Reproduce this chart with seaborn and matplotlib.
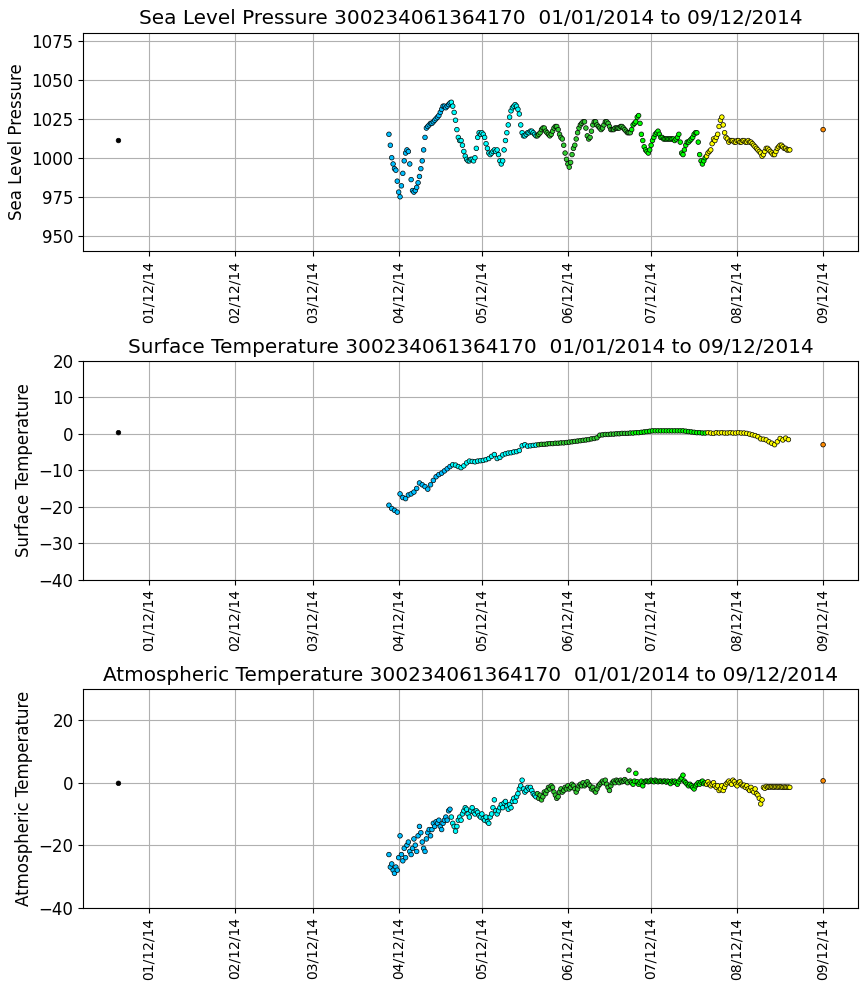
import matplotlib
matplotlib.use("Agg")
from matplotlib import pyplot as plt
import matplotlib.dates as mdates
import seaborn as sns
import pandas as pd
import numpy as np

buoy = "300234061364170"
date_span = "01/01/2014 to 09/12/2014"

# isolated readings at both ends of the record
first_time = "2014-01-01"
last_time = "2014-09-12"
first_values = {"slp": 1011, "sfc": 0.3, "atm": -0.2}
last_values = {"slp": 1018, "sfc": -3.0, "atm": 0.6}

# main track, 12 hourly from 2014-04-08 12:00
track_start = "2014-04-08 12:00"

slp = [
    1015, 1008, 1000, 996, 993, 992, 985, 978, 975, 982, 990, 998, 1003, 1005, 1004, 996,
    986, 979, 978, 979, 981, 984, 988, 993, 998, 1005, 1013, 1019, 1020, 1021, 1022, 1022,
    1023, 1024, 1025, 1026, 1027, 1029, 1031, 1033, 1033, 1032, 1033, 1034, 1035, 1035.5, 1033, 1029,
    1024, 1018, 1013, 1011, 1011, 1008, 1004, 1001, 999, 998, 998, 999, 999, 998, 1000, 1006,
    1013, 1016, 1015, 1016, 1015, 1013, 1009, 1006, 1003, 1002, 1003, 1004, 1005, 1004, 1005, 1002,
    998, 996, 998, 1005, 1011, 1016, 1021, 1026, 1030, 1032, 1033, 1034, 1033, 1031, 1028, 1021,
    1016, 1014, 1014, 1015, 1016, 1016, 1017, 1017, 1016, 1015, 1014, 1014, 1015, 1016, 1018, 1019,
    1019, 1017, 1016, 1015, 1014, 1015, 1017, 1019, 1020, 1020, 1018, 1015, 1013, 1012, 1008, 1003,
    999, 996, 994, 997, 1002, 1006, 1008, 1012, 1016, 1019, 1021, 1022, 1023, 1023, 1019, 1014,
    1012, 1013, 1017, 1021, 1023, 1023, 1021, 1020, 1019, 1018, 1019, 1021, 1023, 1023, 1022, 1020,
    1018, 1018, 1018, 1019, 1019, 1019, 1019, 1020, 1020, 1019, 1018, 1017, 1016, 1016, 1016, 1018,
    1021, 1022, 1023, 1026, 1027, 1022, 1015, 1011, 1007, 1005, 1004, 1003, 1005, 1008, 1011, 1013,
    1015, 1016, 1017, 1015, 1013, 1013, 1012, 1012, 1012, 1012, 1012, 1012, 1012, 1012, 1011, 1012,
    1013, 1015, 1010, 1003, 1002, 1005, 1008, 1010, 1010, 1011, 1012, 1013, 1015, 1016, 1016, 1010,
    1002, 998, 996, 998, 1000, 1001, 1003, 1004, 1005, 1009, 1012, 1011, 1013, 1015, 1020, 1024,
    1026, 1021, 1016, 1013, 1012, 1010, 1011, 1011, 1011, 1010, 1010, 1011, 1011, 1010, 1010, 1011,
    1011, 1010, 1010, 1011, 1010, 1010, 1009, 1008, 1007, 1006, 1005, 1004, 1003, 1001, 1002, 1004,
    1006, 1006, 1005, 1004, 1003, 1002, 1002, 1004, 1006, 1007, 1008, 1008, 1007, 1006, 1006, 1005,
    1005, 1005,
]

atm = [
    -23, -27, -26, -28, -29, -27, -28, -24, -17, -23, -25, -21, -24, -20, -19, -22,
    -23, -21, -18, -20, -22, -17, -14, -16, -19, -21, -22, -18, -16, -15, -17, -15,
    -13, -14, -12.5, -13, -12, -14, -15, -13, -12, -11, -12, -9, -8.5, -11, -13, -14,
    -15.5, -14, -12, -11, -12, -10, -9, -8, -8.5, -10, -11, -9, -8, -9.5, -10, -9,
    -9.5, -10.5, -11, -10, -11.5, -12, -11, -12.5, -13, -11, -10, -8, -5.5, -9, -10, -9,
    -8, -7, -8, -6.5, -6, -7.5, -8.5, -7, -8, -6, -5, -6, -4.5, -3.5, -2, -1,
    0.8, -2, -3, -2.5, -1.5, -2, -1.5, -2.5, -3.5, -4, -4.5, -3.5, -5, -4, -5.5, -4.5,
    -3, -3.5, -2.5, -1.5, -2, -1, -1.5, -3, -4, -5, -4.5, -3, -2, -3, -2.5, -1.5,
    -2, -1, -2, -1.5, -0.5, -1, -2, -3, -2, -1, -0.5, -1, 0, -1, -0.5, 0.3,
    -0.5, -1, -2, -1.5, -2.5, -3, -2, -1, -0.5, 0, 0.5, 0, 0.8, -0.5, -1.5, -2.5,
    -1, 0, 0.5, 0, 0.8, 0.5, 0, 0.8, 0.3, 0.5, 1, 0.5, 0, 4, 0.5, 0,
    -0.5, 0.5, 3, 0.3, -0.5, 0, 0.5, -1, 0.2, 0.5, 0.5, 0.3, 0.5, 0.8, 0.5, 0.3,
    0.8, 0.5, 0.3, 0.5, 0.5, 0.3, 0.5, 0.5, 0.2, 0.5, 0.3, -0.3, 0.5, 0.2, 0.5, 0,
    -0.5, 0.3, 1, 1.5, 2.4, 0.5, 0, -0.5, -1, -0.5, -1, -1.5, -2, -1, -0.5, 0,
    -0.5, 0.2, 0.5, -0.3, 0, -0.5, 0.3, -0.5, -1, -0.5, 0, -1, -1.5, -1, -2.5, -2,
    -1, -2.5, -1.5, -0.5, 0, 0.5, 0, -0.5, 0.8, 0.3, -0.5, -1, 0, 0.3, -0.5, -1,
    -0.8, -1.5, -1, -2, -2.5, -1.5, -2.5, -3, -2, -3.5, -4, -5, -6.8, -5.5, -1.5, -1.8,
    -1.2, -1.5, -1.3, -1.4, -1.3, -1.4, -1.4, -1.3, -1.4, -1.4, -1.3, -1.4, -1.5, -1.4, -1.4, -1.5,
    -1.4, -1.5,
]

# surface temperature, daily from 2014-04-08 12:00
sfc = [
    -19.6, -20.5, -21, -21.5, -16.5, -17.5, -17.8, -16.8, -16.5, -16, -15, -13.5, -14, -14.5, -15.2, -14,
    -12.8, -11.8, -11.2, -10.8, -10.2, -9.6, -9, -8.5, -8.6, -9, -9.3, -8.8, -8, -7.5, -7.6, -7.7,
    -7.5, -7.4, -7.3, -7.1, -6.8, -6.2, -5.7, -6.8, -6.5, -5.8, -5.5, -5.3, -5.2, -5, -4.9, -4.6,
    -3.3, -3, -3.4, -3.3, -3.2, -3.1, -3, -2.9, -2.9, -2.8, -2.7, -2.7, -2.6, -2.6, -2.5, -2.5,
    -2.4, -2.3, -2.2, -2.1, -2, -1.9, -1.8, -1.7, -1.6, -1.4, -1.3, -1.1, -0.4, -0.3, -0.2, -0.2,
    -0.1, -0.1, 0, 0, 0.1, 0.1, 0.1, 0.2, 0.2, 0.3, 0.3, 0.4, 0.5, 0.6, 0.7, 0.8,
    0.8, 0.8, 0.8, 0.8, 0.8, 0.8, 0.8, 0.8, 0.8, 0.8, 0.8, 0.7, 0.6, 0.5, 0.4, 0.3,
    0.3, 0.2, 0.2, 0.3, 0.2, 0.1, 0.3, 0.2, 0.3, 0.2, 0.2, 0.3, 0.2, 0.2, 0.3, 0.2,
    0.2, 0.1, -0.1, -0.3, -0.5, -0.8, -1.4, -1.5, -1.7, -2.2, -2.6, -3.0, -2.2, -1.3, -1.7, -1.2,
    -1.6,
]

# colour bands along the track
band_starts = ["2014-01-01", "2014-04-01", "2014-05-01", "2014-06-01", "2014-07-05", "2014-08-01", "2014-09-01"]
band_colors = ["black", "deepskyblue", "cyan", "limegreen", "lime", "yellow", "darkorange"]


def build_frame(values, step_hours, key):
    times = pd.Timestamp(track_start) + pd.to_timedelta(np.arange(len(values)) * step_hours, unit="h")
    df = pd.DataFrame({"time": times, "value": values})
    ends = pd.DataFrame({"time": pd.to_datetime([first_time, last_time]),
                         "value": [first_values[key], last_values[key]]})
    df = pd.concat([ends.iloc[:1], df, ends.iloc[1:]], ignore_index=True)
    idx = np.searchsorted(pd.to_datetime(band_starts).values, df["time"].values, side="right") - 1
    df["band"] = [band_colors[i] for i in idx]
    return df


panels = [
    ("Sea Level Pressure", build_frame(slp, 12, "slp"), (940, 1080), np.arange(950, 1076, 25)),
    ("Surface Temperature", build_frame(sfc, 24, "sfc"), (-40, 20), np.arange(-40, 21, 10)),
    ("Atmospheric Temperature", build_frame(atm, 12, "atm"), (-40, 30), np.arange(-40, 21, 20)),
]

fig, axes = plt.subplots(3, 1, figsize=(8.67, 9.92), dpi=100)
plt.subplots_adjust(left=0.096, right=0.99, top=0.967, bottom=0.085, hspace=0.5)

palette = {c: c for c in band_colors}
for ax, (name, df, ylim, yticks) in zip(axes, panels):
    sns.scatterplot(x="time", y="value", hue="band", palette=palette, data=df, ax=ax,
                    s=11, edgecolor="black", linewidth=0.5, legend=False, zorder=3)
    ax.set_ylim(*ylim)
    ax.set_yticks(yticks)
    ax.grid(True, color="#b0b0b0", linewidth=0.8)
    ax.set_axisbelow(True)
    ax.xaxis.set_major_locator(mdates.MonthLocator(bymonthday=12))
    ax.xaxis.set_major_formatter(mdates.DateFormatter("%m/%d/%y"))
    ax.tick_params(axis="x", labelrotation=90, labelsize=10)
    ax.tick_params(axis="y", labelsize=12)
    ax.set_xlabel("")
    ax.set_ylabel(name, fontsize=12)
    ax.set_title(f"{name} {buoy}  {date_span}", fontsize=14.4)

plt.savefig("out.png", dpi=100)
